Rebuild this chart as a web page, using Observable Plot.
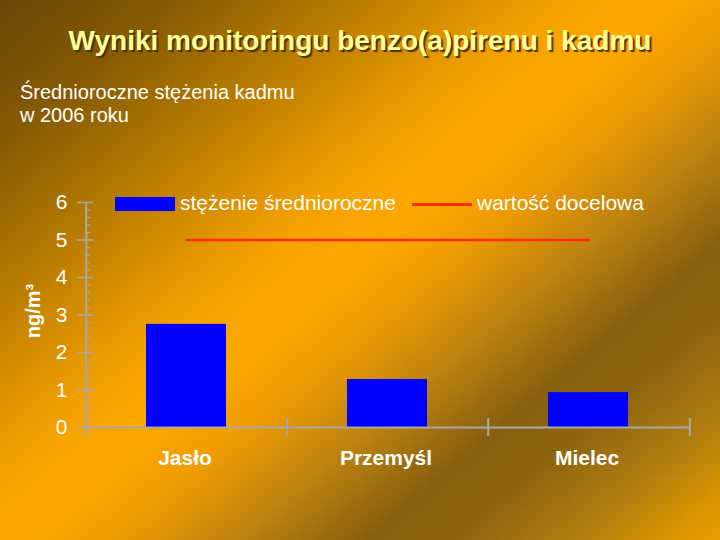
<!DOCTYPE html>
<html>
<head>
<meta charset="utf-8">
<script src="https://cdn.jsdelivr.net/npm/d3@7"></script>
<script src="https://cdn.jsdelivr.net/npm/@observablehq/plot@0.6"></script>
<style>
  html, body { margin: 0; padding: 0; }
  body {
    width: 720px; height: 540px; overflow: hidden; position: relative;
    font-family: Arial, "Liberation Sans", sans-serif;
    background: linear-gradient(140deg, #684606 0%, #855b04 13%, #c48300 29%, #f3a100 41%, #ffa800 48%, #f09d02 55%, #bb8110 65%, #87600f 74%, #8c6410 80%, #b07d10 89%, #d99500 96%, #e8a000 100%);
  }
  #chart { position: absolute; left: 0; top: 0; }
  .abs { position: absolute; white-space: nowrap; }
  #title { left: 0; width: 720px; top: 25px; text-align: center; font-size: 28px; font-weight: bold; color: #ffff99; text-shadow: 2px 2px 1px #4a3000; }
  #sub { left: 20px; top: 81px; font-size: 20px; line-height: 23px; color: #ffffff; }
  #ylab { left: 33px; top: 311px; font-size: 20px; font-weight: bold; color: #ffffff; transform: translate(-50%, -50%) rotate(-90deg); }
  .leg { font-size: 21px; color: #ffffff; }
</style>
</head>
<body>
<div id="chart"></div>
<div id="title" class="abs">Wyniki monitoringu benzo(a)pirenu i kadmu</div>
<div id="sub" class="abs">Średnioroczne stężenia kadmu<br>w 2006 roku</div>
<div id="ylab" class="abs">ng/m³</div>
<div class="abs" style="left:115px; top:197px; width:60px; height:14px; background:#0000ff;"></div>
<div class="abs leg" style="left:180px; top:191px;">stężenie średnioroczne</div>
<div class="abs" style="left:412px; top:203px; width:60px; height:2.5px; background:#ff2a00;"></div>
<div class="abs leg" style="left:477px; top:191px;">wartość docelowa</div>
<script>
const cities = ["Jasło", "Przemyśl", "Mielec"];
const values = [2.75, 1.28, 0.93];
const targetValues = [5, 5, 5];
const yTicks = [0, 1, 2, 3, 4, 5, 6];
const yMinorTicks = d3.range(0, 6.001, 0.2);

const rows = cities.map((c, i) => ({city: c, value: values[i], target: targetValues[i]}));

const W = 720, H = 540, mL = 85, mR = 30, mT = 202, mB = 113;
const step = (W - mL - mR) / cities.length;
const gray = "#a8a8a8";

const chart = Plot.plot({
  width: W, height: H,
  marginLeft: mL, marginRight: mR, marginTop: mT, marginBottom: mB,
  style: {background: "transparent", overflow: "visible", fontFamily: "Arial, 'Liberation Sans', sans-serif"},
  x: {domain: cities, padding: 0, axis: null},
  y: {domain: [0, 6], axis: null},
  marks: [
    Plot.axisY({ticks: yMinorTicks, tickSize: 5, dx: 5, tickFormat: () => "", stroke: gray, strokeWidth: 1.2, label: null}),
    Plot.axisY({ticks: yTicks, tickSize: 16, dx: 8, tickFormat: () => "", stroke: gray, strokeWidth: 1.5, label: null}),
    Plot.axisY({ticks: yTicks, tickSize: 0, tickPadding: 18, tickFormat: d => String(d), fill: "white", fontSize: 21, label: null}),
    Plot.axisX({tickSize: 0, tickPadding: 23, dx: -2, fill: "white", fontSize: 21, fontWeight: "bold", label: null}),
    Plot.barY(rows, {x: "city", y: "value", fill: "#0000ff", insetLeft: 60, insetRight: 61}),
    Plot.lineY(rows, {x: "city", y: "target", stroke: "#ff2a00", strokeWidth: 2.5}),
    Plot.ruleY([0], {stroke: gray, strokeWidth: 2}),
    Plot.ruleX(cities, {x: d => d, dx: -step / 2, y1: -0.24, y2: 0.24, stroke: gray, strokeWidth: 2}),
    Plot.ruleX(cities.slice(-1), {x: d => d, dx: step / 2, y1: -0.24, y2: 0.24, stroke: gray, strokeWidth: 2}),
    Plot.ruleX(cities.slice(0, 1), {x: d => d, dx: -step / 2, y1: -0.24, y2: 6, stroke: gray, strokeWidth: 2})
  ]
});
document.getElementById("chart").appendChild(chart);
</script>
</body>
</html>
